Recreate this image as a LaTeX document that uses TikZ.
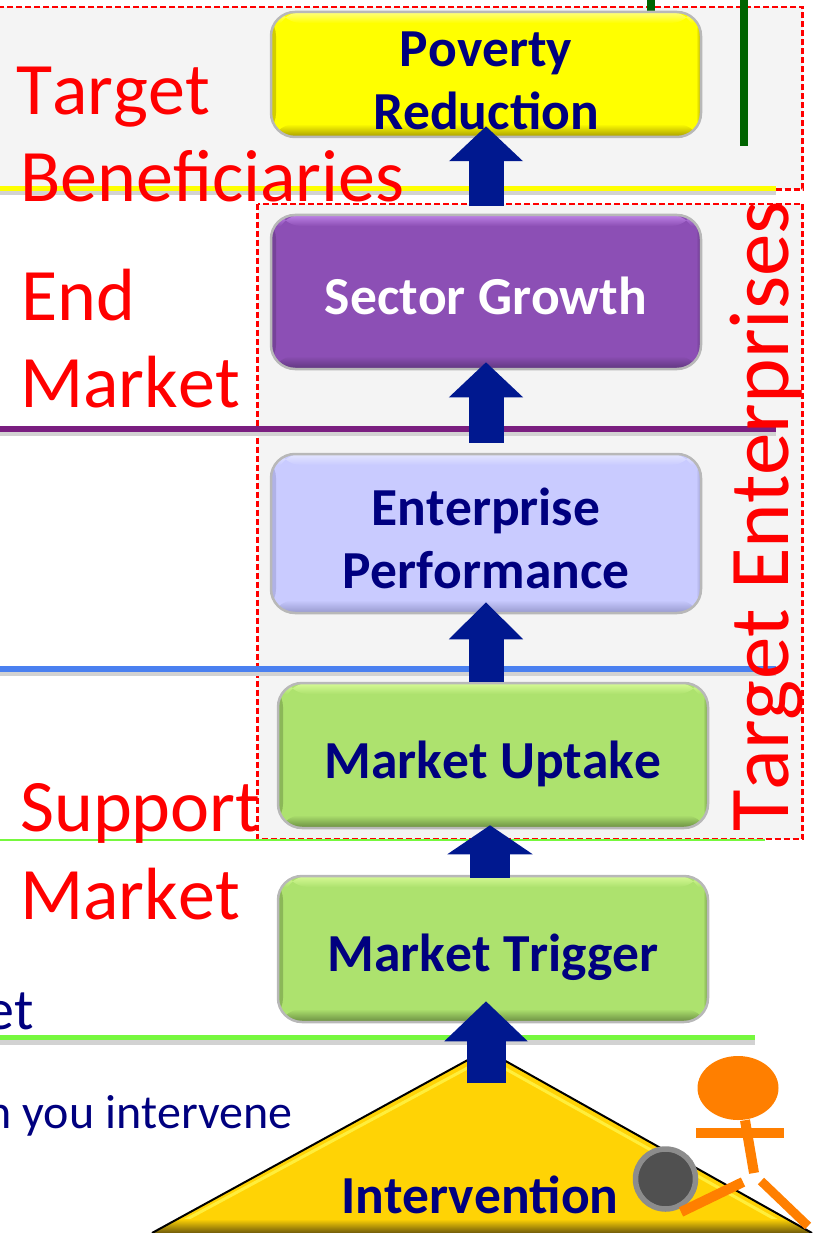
\documentclass[tikz,border=0pt]{standalone}
\usepackage{fontspec}
\setmainfont{Carlito}[Kerning=Off]
\usepackage {tikz}
\usetikzlibrary{shapes.geometric}
\usetikzlibrary{arrows.meta}
\definecolor{navytext}{HTML}{00007F}
\definecolor{arrowblue}{HTML}{00188F}
\definecolor{panelgrey}{HTML}{F4F4F4}
\definecolor{ruleshadow}{HTML}{D2D2D2}
\definecolor{darkgreen}{HTML}{006400}
\definecolor{figorange}{HTML}{FF7F00}
\definecolor{ruleyellow}{HTML}{FFFF00}
\definecolor{rulepurple}{HTML}{7A1E80}
\definecolor{ruleblue}{HTML}{4A80F0}
\definecolor{rulegreen}{HTML}{76F83E}
\definecolor{purplebox}{HTML}{8C4FB5}
\definecolor{purplehi}{HTML}{BE82E6}
\definecolor{purplelo}{HTML}{5F377D}
\definecolor{lilacbox}{HTML}{C9CBFF}
\definecolor{lilachi}{HTML}{E4E6FF}
\definecolor{lilaclo}{HTML}{9698CD}
\definecolor{greenbox}{HTML}{ADE26E}
\definecolor{greenhi}{HTML}{D7FA96}
\definecolor{greenlo}{HTML}{698C41}
\definecolor{yellowbox}{HTML}{FFFF00}
\definecolor{yellowhi}{HTML}{FFFF80}
\definecolor{yellowlo}{HTML}{A69A00}
\definecolor{wedgeyellow}{HTML}{FFD305}
\definecolor{wedgehi}{HTML}{FFEE3C}
\definecolor{wedgelo}{HTML}{6E5A0A}
\definecolor{ballgrey}{HTML}{505050}
\definecolor{ballrim}{HTML}{8C8C8C}
\newcommand{\topstrut}{\rule{0pt}{48pt}}
\tikzset{
    panel/.style = {draw=red,fill=panelgrey,line width=2.4pt,dash pattern=on 6pt off 3pt},
    rulebar/.style = {line width=5.5pt},
    rulegrey/.style = {draw=ruleshadow,line width=6pt},
    stepbox/.style n args={3}{rectangle,rounded corners=24pt,draw=black!28,line width=2.5pt,fill=#1,
        text=navytext,align=center,inner sep=0pt,minimum width=430pt,
        font=\fontsize{53.5}{63}\selectfont\bfseries,
        path picture={
            \shade[left color=#3!50!#1,right color=#1] (path picture bounding box.south west) rectangle ([xshift=5pt]path picture bounding box.north west);
            \shade[left color=#1,right color=#3!80!#1] ([xshift=-5pt]path picture bounding box.south east) rectangle (path picture bounding box.north east);
            \shade[top color=#2,bottom color=#1] ([xshift=6pt]path picture bounding box.north west) rectangle ([xshift=-6pt,yshift=-11pt]path picture bounding box.north east);
            \shade[top color=#1,bottom color=#3] ([yshift=13pt]path picture bounding box.south west) rectangle (path picture bounding box.south east);
        }},
    oneline/.style = {execute at begin node={\rule[-10pt]{0pt}{65pt}}},
    redlabel/.style = {anchor=base west,inner sep=0pt,text=red,font=\fontsize{74}{74}\selectfont},
    navylabel/.style = {inner sep=0pt,text=navytext},
    flow/.style n args={3}{draw=arrowblue,line width=#1,-{Triangle[length=#2,width=#3]}},
    limb/.style = {draw=figorange,line width=10pt}}
\begin{document}
\begin{tikzpicture}[x=1pt,y=-1pt]
    \useasboundingbox (0,0) rectangle (812,1233);
    % dashed panels
    \path[panel] (-5,7) rectangle (802.5,189.5);
    \path[panel] (257.5,204) rectangle (802.5,839);
    \draw[darkgreen,line width=8pt] (651,-2) -- (651,11);
    \draw[darkgreen,line width=8pt] (743.5,-2) -- (743.5,146);
    % level rules
    \draw[rulegrey] (-5,192.5) -- (776,192.5);
    \draw[rulebar,ruleyellow] (-5,188.5) -- (776,188.5);
    \draw[rulegrey] (-5,433) -- (776,433);
    \draw[rulebar,rulepurple] (-5,429) -- (776,429);
    \draw[rulegrey] (-5,673) -- (776,673);
    \draw[rulebar,ruleblue] (-5,669) -- (776,669);
    \draw[line width=2.5pt,rulegreen] (-5,840) -- (765,840);
    \draw[rulegrey] (-5,1042) -- (755,1042);
    \draw[rulebar,rulegreen] (-5,1037.5) -- (755,1037.5);
    % intervention triangle
    \coordinate (apex) at (486,1050);
    \coordinate (baseL) at (152,1233);
    \coordinate (baseR) at (812,1233);
    \fill[wedgeyellow] (baseL) -- (apex) -- (baseR) -- cycle;
    \draw[line width=3pt,wedgehi] (178,1224) -- (486,1058) -- (780,1222);
    \begin{scope}
        \clip (baseL) -- (apex) -- (baseR) -- cycle;
        \shade[top color=wedgeyellow,bottom color=wedgelo] (150,1219) rectangle (814,1233);
    \end{scope}
    \draw[line width=2pt,line join=miter] (baseL) -- (apex) -- (baseR);
    \node[navylabel,font=\fontsize{53.5}{54}\selectfont\bfseries,anchor=base] (intervention) at (480,1213) {Intervention};
    % results chain
    \node[stepbox={yellowbox}{yellowhi}{yellowlo},minimum height=125pt] (poverty) at (486,74.5) {\topstrut Poverty\\Reduction};
    \node[stepbox={purplebox}{purplehi}{purplelo},oneline,minimum height=154pt,text=white] (sector) at (486,292) {Sector Growth};
    \node[stepbox={lilacbox}{lilachi}{lilaclo},minimum height=159pt] (enterprise) at (486,533.5) {\topstrut Enterprise\\Performance};
    \node[stepbox={greenbox}{greenhi}{greenlo},oneline,minimum height=145pt] (uptake) at (493,755.5) {Market Uptake};
    \node[stepbox={greenbox}{greenhi}{greenlo},oneline,minimum height=146pt] (trigger) at (493,949) {Market Trigger};
    % arrows between the steps
    \draw[flow={39pt}{40pt}{81pt}] ([xshift=-7pt,yshift=-60pt]trigger.south) -- ([xshift=-7pt,yshift=22pt]trigger.south);
    \draw[flow={40pt}{29pt}{84pt}] ([xshift=-3pt,yshift=-3pt]trigger.north) -- ([xshift=-3pt,yshift=4pt]uptake.south);
    \draw[flow={35pt}{37pt}{72pt}] (uptake.north -| enterprise.south) -- ([yshift=12pt]enterprise.south);
    \draw[flow={35pt}{35pt}{72pt}] ([yshift=10pt]enterprise.north) -- ([yshift=8pt]sector.south);
    \draw[flow={35pt}{35pt}{72pt}] ([yshift=8pt]sector.north) -- ([yshift=12pt]poverty.south);
    % row labels
    \node[redlabel] (beneftop) at (16,115) {Target};
    \node[redlabel] (benef) at (20,202) {Beneficiaries};
    \node[redlabel] (endtop) at (21,320) {End};
    \node[redlabel] (endmarket) at (20,407) {Market};
    \node[redlabel] (supporttop) at (20,831) {Support};
    \node[redlabel] (supportmarket) at (20,919) {Market};
    \node[redlabel,rotate=90,font=\fontsize{85}{85}\selectfont] (enterprises) at (788,832) {Target Enterprises};
    \node[navylabel,font=\fontsize{58}{58}\selectfont,anchor=base east] (marketend) at (34,1029) {et};
    \node[navylabel,font=\fontsize{48}{48}\selectfont,anchor=base east] (youintervene) at (293,1128) {n you intervene};
    % figure pushing the ball
    \node[circle,draw=ballrim,fill=ballgrey,line width=5.5pt,minimum size=60pt,inner sep=0pt] (ball) at (665.5,1179) {};
    \node[ellipse,fill=figorange,minimum width=81pt,minimum height=64pt,inner sep=0pt] (head) at (738,1088) {};
    \coordinate (hip) at (754,1173);
    \draw[limb] ([xshift=7pt]head.south) -- (hip);
    \draw[limb] (696,1133) -- (784,1133);
    \draw[limb] (743,1182) -- (681,1212);
    \draw[limb,line width=9pt] (761,1181) -- (808,1226);
\end{tikzpicture}
\end{document}
